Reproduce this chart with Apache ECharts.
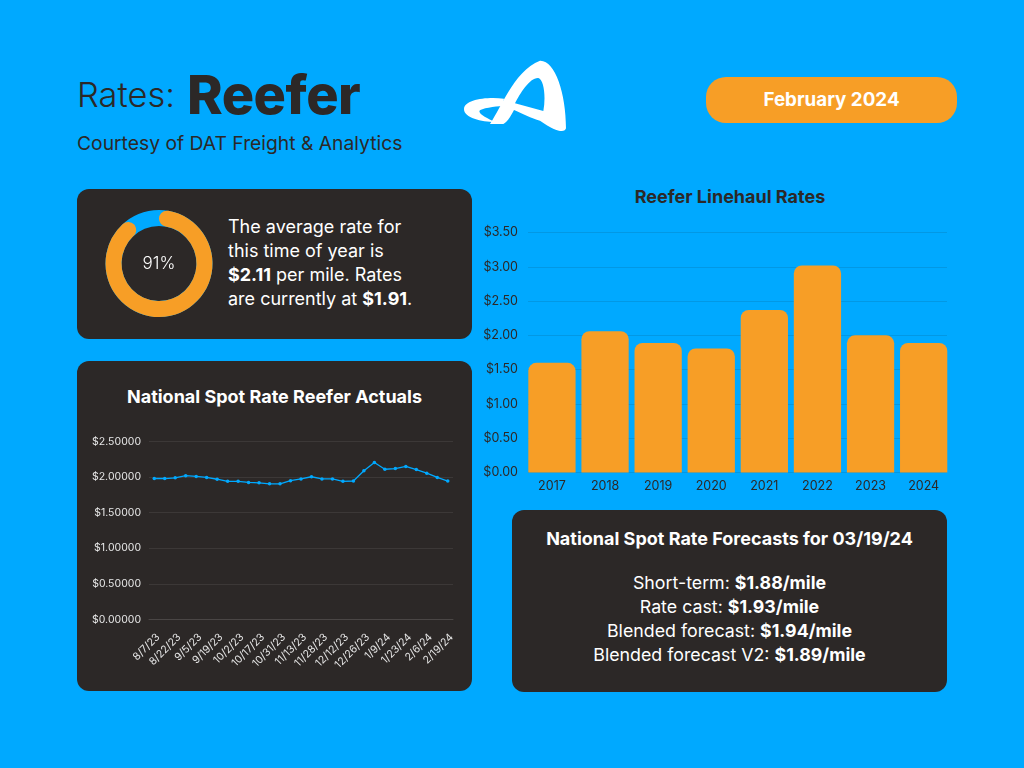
<!DOCTYPE html>
<html lang="en">
<head>
  <meta charset="UTF-8">
  <title>Rates: Reefer</title>
  <script src="https://cdn.jsdelivr.net/npm/echarts@6/dist/echarts.min.js"></script>
  <style>
    html, body { margin: 0; padding: 0; }
    body { width: 1024px; height: 768px; background: #00a9ff; position: relative; overflow: hidden; font-family: Inter, "Open Sans", sans-serif; color: #2c2827; }
    .abs { position: absolute; white-space: nowrap; }
    .panel { position: absolute; background: #2c2827; border-radius: 12px; }
    .light { color: #fff; }
    .center { text-align: center; }
    #chart { position: absolute; left: 0; top: 0; width: 1024px; height: 768px; }
    b { font-weight: 700; }
  </style>
</head>
<body>
  <div class="panel" style="left:77px;top:189px;width:395px;height:150px"></div>
  <div class="panel" style="left:77px;top:361px;width:395px;height:330px"></div>
  <div class="panel" style="left:512px;top:510px;width:435px;height:182px"></div>
  <div class="abs" style="left:706px;top:77px;width:251px;height:46px;border-radius:20px;background:#f79e26;color:#fff;font-size:18.8px;font-weight:700;line-height:46px;text-align:center">February 2024</div>

  <div class="abs" style="left:77px;top:76px;font-size:34.4px;line-height:38px;font-weight:300">Rates:</div>
  <div class="abs" style="left:187px;top:65px;font-size:54px;line-height:60px;font-weight:800;letter-spacing:-0.5px">Reefer</div>
  <div class="abs" style="left:77px;top:130px;font-size:19.3px;line-height:26px">Courtesy of DAT Freight &amp; Analytics</div>

  <svg class="abs" style="left:440px;top:50px" width="150" height="100" viewBox="0 0 450 300">
    <path fill="#fff" fill-rule="evenodd" d="M150 222 C185 170 225 60 300 32 C345 30 378 130 378 235 C375 248 350 248 300 212 C275 205 245 190 222 180 C215 195 200 218 190 222 Z M225 160 L310 183 C318 140 312 90 295 84 C270 82 240 130 225 160 Z"/>
    <path fill="#fff" d="M192 146 C140 140 72 148 72 178 C72 204 125 215 165 217 C145 205 118 195 118 183 C122 174 165 170 188 167 Z"/>
  </svg>

  <div class="abs light" style="left:228px;top:215px;font-size:18px;line-height:24px">
    The average rate for<br>this time of year is<br><b>$2.11</b> per mile. Rates<br>are currently at <b>$1.91</b>.
  </div>

  <div class="abs light center" style="left:77px;top:386px;width:395px;font-size:18px;line-height:22px;font-weight:700">National Spot Rate Reefer Actuals</div>
  <div class="abs center" style="left:480px;top:186px;width:500px;font-size:18px;line-height:22px;font-weight:700">Reefer Linehaul Rates</div>
  <div class="abs light center" style="left:512px;top:528px;width:435px;font-size:18px;line-height:22px;font-weight:700">National Spot Rate Forecasts for 03/19/24</div>
  <div class="abs light center" style="left:512px;top:571px;width:435px;font-size:17.8px;line-height:24px">
    Short-term: <b>$1.88/mile</b><br>Rate cast: <b>$1.93/mile</b><br>Blended forecast: <b>$1.94/mile</b><br>Blended forecast V2: <b>$1.89/mile</b>
  </div>

  <div id="chart"></div>

  <script>
    var years = ['2017', '2018', '2019', '2020', '2021', '2022', '2023', '2024']
    var linehaul = [1.60, 2.06, 1.89, 1.81, 2.37, 3.02, 2.00, 1.89]

    var weeks = ['8/7/23', '8/14/23', '8/22/23', '8/28/23', '9/5/23', '9/11/23', '9/19/23', '9/25/23',
      '10/2/23', '10/9/23', '10/17/23', '10/23/23', '10/31/23', '11/6/23', '11/13/23', '11/20/23',
      '11/28/23', '12/4/23', '12/12/23', '12/18/23', '12/26/23', '1/2/24', '1/9/24', '1/16/24',
      '1/23/24', '1/30/24', '2/6/24', '2/13/24', '2/19/24']
    var spot = [1.98, 1.98, 1.99, 2.02, 2.01, 1.995, 1.97, 1.94, 1.94, 1.925, 1.92, 1.905, 1.905, 1.95,
      1.975, 2.005, 1.975, 1.975, 1.94, 1.945, 2.09, 2.205, 2.11, 2.12, 2.15, 2.105, 2.055, 1.995, 1.945]

    var donutValues = [91, 9]

    var BLUE = '#00a9ff'
    var ORANGE = '#f79e26'
    var DARK = '#2c2827'
    var FONT = 'Inter'

    var mChart = echarts.init(document.querySelector('#chart'))
    var option = {
      animation: false,
      textStyle: { fontFamily: FONT },
      grid: [
        { left: 149, top: 441.5, width: 304, height: 178 },
        { left: 528, top: 232.5, width: 419, height: 240 },
        { left: 525.4, top: 232.5, width: 424.8, height: 240 }
      ],
      xAxis: [
        {
          gridIndex: 0, type: 'category', data: weeks,
          axisTick: { show: false },
          axisLine: { lineStyle: { color: '#4a4645' } },
          axisLabel: { interval: 1, rotate: 45, fontSize: 10.5, color: '#e6e6e6', margin: 12, verticalAlign: 'top', hideOverlap: false }
        },
        { gridIndex: 1, type: 'category', show: false, data: years },
        {
          gridIndex: 2, type: 'category', data: years,
          axisTick: { show: false },
          axisLine: { show: false },
          axisLabel: { fontSize: 12.5, color: DARK, margin: 7 }
        }
      ],
      yAxis: [
        {
          gridIndex: 0, type: 'value', min: 0, max: 2.5, interval: 0.5,
          axisLabel: { fontSize: 10.5, color: '#e6e6e6', margin: 8, padding: [2, 0, 0, 0], formatter: function (v) { return '$' + v.toFixed(5) } },
          splitLine: { lineStyle: { color: '#3c3837' } }
        },
        {
          gridIndex: 1, type: 'value', min: 0, max: 3.5, interval: 0.5,
          axisLabel: { fontSize: 12.5, color: DARK, margin: 10, padding: [2, 0, 0, 0], formatter: function (v) { return '$' + v.toFixed(2) } },
          splitLine: { lineStyle: { color: '#0298e4' } }
        },
        { gridIndex: 2, type: 'value', min: 0, max: 3.5, interval: 0.5, show: false, splitLine: { show: false } }
      ],
      series: [
        {
          type: 'line', xAxisIndex: 0, yAxisIndex: 0, data: spot, silent: true,
          symbol: 'circle', symbolSize: 3.5,
          lineStyle: { color: BLUE, width: 1.3 },
          itemStyle: { color: BLUE }
        },
        {
          type: 'bar', xAxisIndex: 2, yAxisIndex: 2, data: linehaul, silent: true,
          barCategoryGap: '11%',
          itemStyle: { color: ORANGE, borderRadius: [8, 8, 0, 0] }
        },
        {
          type: 'pie', center: [159, 263.5], radius: [37.5, 53.5], silent: true,
          data: [100], label: { show: false }, labelLine: { show: false },
          itemStyle: { color: BLUE }
        },
        {
          type: 'pie', center: [159, 263.5], radius: [37.5, 53.5], silent: true,
          startAngle: 90, clockwise: true,
          label: { show: false }, labelLine: { show: false },
          data: [
            {
              value: donutValues[0],
              itemStyle: { color: ORANGE, borderRadius: 8 },
              label: { show: true, position: 'center', formatter: '{d}%', fontSize: 17, padding: [3, 0, 0, 0], fontWeight: 300, color: '#fff', fontFamily: FONT }
            },
            { value: donutValues[1], itemStyle: { color: 'transparent' } }
          ]
        }
      ]
    }
    mChart.setOption(option)
  </script>
</body>
</html>
